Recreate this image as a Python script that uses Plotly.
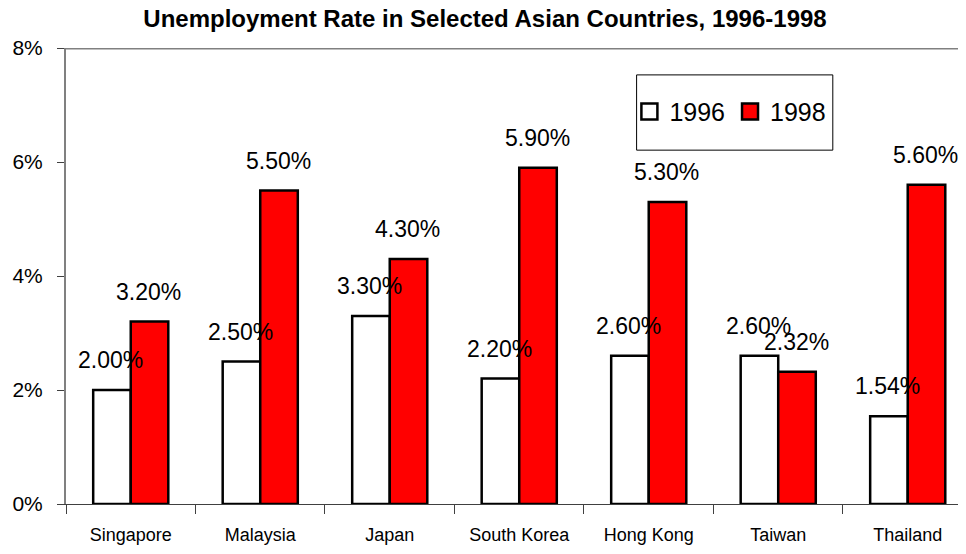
import plotly.graph_objects as go

countries = ["Singapore", "Malaysia", "Japan", "South Korea", "Hong Kong", "Taiwan", "Thailand"]
rate_1996 = [2.00, 2.50, 3.30, 2.20, 2.60, 2.60, 1.54]
rate_1998 = [3.20, 5.50, 4.30, 5.90, 5.30, 2.32, 5.60]
y_ticks = [0, 2, 4, 6, 8]
y_tick_text = [f"{v}%" for v in y_ticks]

FONT = "Arial, Liberation Sans, sans-serif"

fig = go.Figure()
fig.add_trace(go.Bar(x=countries, y=rate_1996, name="1996", showlegend=False,
                     marker=dict(color="white", line=dict(color="black", width=2.5))))
fig.add_trace(go.Bar(x=countries, y=rate_1998, name="1998", showlegend=False,
                     marker=dict(color="#FF0000", line=dict(color="black", width=2.5))))

# legend entries
for nm, col in [("1996", "white"), ("1998", "#FF0000")]:
    fig.add_trace(go.Scatter(x=[None], y=[None], mode="markers", name=nm,
                             marker=dict(symbol="square", size=17, color=col,
                                         line=dict(color="black", width=2.5))))

annos = []
cat_px = 129.5
bar_px = cat_px * (1 - 0.42) / 2
for i, c in enumerate(countries):
    for vals, sgn in [(rate_1996, -1), (rate_1998, 1)]:
        annos.append(dict(x=i, y=vals[i], xref="x", yref="y", text=f"{vals[i]:.2f}%",
                          showarrow=False, yanchor="bottom", xanchor="center",
                          xshift=sgn * bar_px / 2 - 1, yshift=15,
                          font=dict(family=FONT, size=23, color="black")))

fig.update_layout(
    width=958, height=546,
    margin=dict(l=58, r=0, t=40, b=50),
    paper_bgcolor="white", plot_bgcolor="white",
    bargap=0.42, bargroupgap=0,
    barmode="group",
    title=dict(text="<b>Unemployment Rate in Selected Asian Countries, 1996-1998</b>",
               x=(485 - 8) / 958, xanchor="center", xref="container", y=1 - 11 / 546,
               yanchor="middle",
               font=dict(family=FONT, size=24, color="black")),
    annotations=annos,
    showlegend=True,
    legend=dict(orientation="h", x=0.626, y=0.86, xanchor="left", yanchor="middle",
                font=dict(family=FONT, size=25, color="black"),
                bgcolor="rgba(0,0,0,0)", borderwidth=0, itemwidth=30,
                tracegroupgap=0, itemsizing="trace"),
    shapes=[
        dict(type="line", xref="paper", yref="y", x0=0, x1=1, y0=8, y1=8,
             line=dict(color="#808080", width=3)),
        dict(type="rect", xref="paper", yref="paper", x0=0.634, x1=0.852, y0=0.776, y1=0.941,
             line=dict(color="black", width=1), fillcolor="rgba(0,0,0,0)"),
    ],
)

fig.update_xaxes(range=[-0.5, 6.45], showline=True, linecolor="#404040", linewidth=1,
                 ticks="outside", tickson="boundaries", ticklen=9, tickcolor="#404040",
                 ticklabelstandoff=14,
                 tickfont=dict(family=FONT, size=18, color="black"), showgrid=False)
fig.update_yaxes(range=[0, 8], tickvals=y_ticks, ticktext=y_tick_text, showline=True,
                 linecolor="#808080", linewidth=2, ticks="outside", ticklen=7,
                 tickcolor="#404040", ticklabelstandoff=10, showgrid=False, zeroline=False,
                 tickfont=dict(family=FONT, size=21, color="black"))

fig.write_html("out.html")
